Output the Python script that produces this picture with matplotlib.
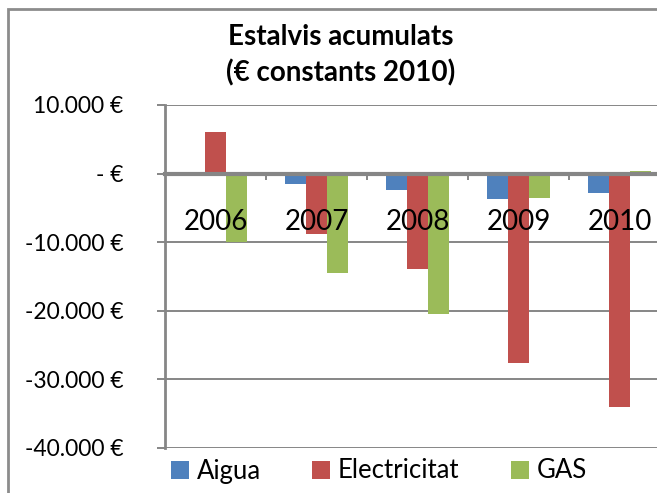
import numpy as np
import matplotlib
matplotlib.use("Agg")
import matplotlib.pyplot as plt
from matplotlib.patches import Rectangle

# dades llegides del gràfic
years = ["2006", "2007", "2008", "2009", "2010"]
aigua = [0, -1500, -2450, -3750, -2900]
electricitat = [6000, -8850, -13900, -27600, -34000]
gas = [-10000, -14500, -20400, -3500, 350]
series_names = ["Aigua", "Electricitat", "GAS"]
colors = ["#4F81BD", "#C0504D", "#9BBB59"]
yticks = [10000, 0, -10000, -20000, -30000, -40000]
ytick_labels = ["10.000 €", "- €", "-10.000 €", "-20.000 €", "-30.000 €", "-40.000 €"]

plt.rcParams['font.family'] = ['Lato', 'DejaVu Sans']
grey = "#868686"

fig = plt.figure(figsize=(6.57, 4.93), dpi=100)
ax = fig.add_axes([165 / 657, 45 / 493, 492 / 657, 343 / 493])

x = np.arange(len(years))
width = 0.205
handles = []
for k, (vals, color) in enumerate(zip([aigua, electricitat, gas], colors)):
    h = ax.bar(x + (k - 1) * 0.21, vals, width, color=color, zorder=1)
    handles.append(h)

ax.set_xlim(-0.5, -0.5 + 492 / 101)
ax.set_ylim(-40000, 10000)

ax.set_yticks(yticks)
ax.set_yticklabels(ytick_labels)
ax.yaxis.grid(True, color=grey, lw=1.4)
ax.set_axisbelow(True)
ax.tick_params(axis="y", direction="out", length=6, width=1.4, color=grey,
               labelsize=16.5, pad=24)

ax.set_xticks([0.5, 1.5, 2.5, 3.5])
ax.set_xticklabels([])
ax.tick_params(axis="x", direction="out", length=4, width=1.4, color=grey)

for s in ["top", "right"]:
    ax.spines[s].set_visible(False)
ax.spines["left"].set_color(grey)
ax.spines["left"].set_linewidth(2)
ax.spines["bottom"].set_position(("data", 0))
ax.spines["bottom"].set_color(grey)
ax.spines["bottom"].set_linewidth(3)

for i, year in enumerate(years):
    ax.annotate(year, xy=(i, 0), xytext=(0, -35), textcoords="offset points",
                ha="center", va="center", fontsize=20, zorder=5)

fig.text(341 / 657, 1 - 37 / 493, "Estalvis acumulats", ha="center", va="center",
         fontsize=20, fontweight="bold")
fig.text(341 / 657, 1 - 73 / 493, "(€ constants 2010)", ha="center", va="center",
         fontsize=20, fontweight="bold")

fig.legend(handles, series_names, loc="center", bbox_to_anchor=(379 / 657, 1 - 471 / 493),
           ncol=3, frameon=False, fontsize=18.5, handlelength=0.7, handleheight=0.7,
           handletextpad=0.3, columnspacing=2.0)

fig.patches.append(Rectangle((8 / 657, -0.1), 1.1, 1.1 - 9 / 493, transform=fig.transFigure,
                             fill=False, edgecolor="#8c8c8c", lw=2))

fig.savefig("out.png", dpi=100)
